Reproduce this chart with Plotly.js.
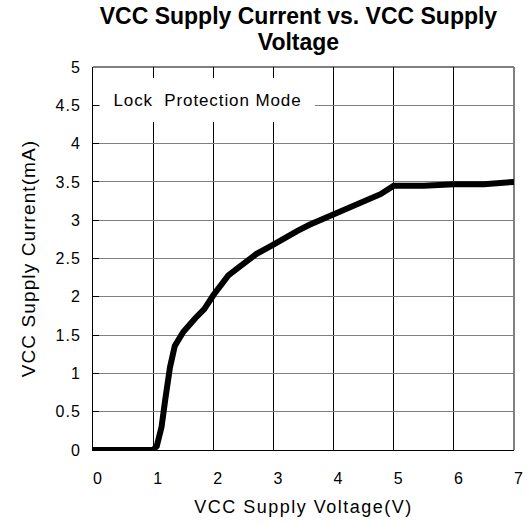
<!DOCTYPE html>
<html>
<head>
<meta charset="utf-8">
<script src="https://cdn.plot.ly/plotly-3.0.1.min.js"></script>
<style>
  html, body { margin: 0; padding: 0; background: #fff; }
  #chart { width: 532px; height: 524px; }
  .xtitle { letter-spacing: 1.5px; }
  .ytitle { letter-spacing: 1.1px; }
  .annotation-text { letter-spacing: 0.9px; }
  .xtick text, .ytick text { letter-spacing: 1px; }
</style>
</head>
<body>
<div id="chart"></div>
<script>
// Data
const voltage = [0, 1.0, 1.06, 1.14, 1.2, 1.28, 1.36, 1.5, 1.7, 1.85, 2.0, 2.25, 2.45, 2.62, 2.72, 3.0, 3.2, 3.4, 3.6, 4.0, 4.5, 4.78, 5.0, 5.5, 6.0, 6.5, 7.0];
const current = [0, 0, 0.05, 0.3, 0.65, 1.08, 1.36, 1.54, 1.72, 1.84, 2.02, 2.28, 2.4, 2.5, 2.56, 2.68, 2.78, 2.86, 2.94, 3.08, 3.24, 3.34, 3.45, 3.45, 3.47, 3.47, 3.5];

const xTickVals = [0, 1, 2, 3, 4, 5, 6, 7];
const xTickText = ["0", "1", "2", "3", "4", "5", "6", "7"];
const yTickVals = [0, 0.5, 1, 1.5, 2, 2.5, 3, 3.5, 4, 4.5, 5];
const yTickText = ["0", "0.5", "1", "1.5", "2", "2.5", "3", "3.5", "4", "4.5", "5"];

const titleLine1 = "VCC Supply Current vs. VCC Supply";
const titleLine2 = "Voltage";
const xTitle = "VCC Supply Voltage(V)";
const yTitle = "VCC Supply Current(mA)";
const noteText = "Lock  Protection Mode";

const FONT = "'Liberation Sans', Arial, sans-serif";

const trace = {
  x: voltage,
  y: current,
  type: "scatter",
  mode: "lines",
  line: { color: "#000000", width: 6, shape: "linear" },
  cliponaxis: false,
  hoverinfo: "x+y"
};

const titleSpan = t => '<span style="font-size:23px">' + t + '</span>';

const layout = {
  width: 532,
  height: 524,
  margin: { l: 93, r: 18, t: 67, b: 74, pad: 0 },
  paper_bgcolor: "#ffffff",
  plot_bgcolor: "#ffffff",
  showlegend: false,
  font: { family: FONT, color: "#000000" },
  title: {
    text: titleSpan(titleLine1) + "<br>" + titleSpan(titleLine2),
    font: { family: FONT, size: 20, color: "#000000", weight: "bold" },
    x: 0.561,
    xanchor: "center",
    xref: "container",
    y: 0.955,
    yanchor: "top",
    yref: "container"
  },
  xaxis: {
    range: [0, 7],
    tickmode: "array",
    tickvals: xTickVals,
    ticktext: xTickText,
    ticks: "inside",
    ticklen: 6,
    tickcolor: "#000000",
    tickwidth: 1,
    showgrid: true,
    gridcolor: "#000000",
    gridwidth: 1,
    zeroline: false,
    showline: true,
    linecolor: "#000000",
    linewidth: 1,
    layer: "below traces",
    tickfont: { family: FONT, size: 16, color: "#000000" },
    ticklabelstandoff: 14,
    ticklabelshift: 5,
    fixedrange: true,
    title: { text: xTitle, font: { family: FONT, size: 18, color: "#000000" }, standoff: 14 }
  },
  yaxis: {
    range: [0, 5],
    tickmode: "array",
    tickvals: yTickVals,
    ticktext: yTickText,
    ticks: "inside",
    ticklen: 6,
    tickcolor: "#000000",
    tickwidth: 1,
    showgrid: true,
    gridcolor: "#808080",
    gridwidth: 1,
    zeroline: false,
    showline: true,
    linecolor: "#000000",
    linewidth: 1,
    layer: "below traces",
    tickfont: { family: FONT, size: 16, color: "#000000" },
    ticklabelstandoff: 8,
    fixedrange: true,
    title: { text: yTitle, font: { family: FONT, size: 19, color: "#000000" }, standoff: 14 }
  },
  shapes: [
    { type: "line", xref: "paper", yref: "paper", x0: 0, x1: 1, y0: 1, y1: 1,
      line: { color: "#808080", width: 2 }, layer: "below" },
    { type: "line", xref: "paper", yref: "paper", x0: 1, x1: 1, y0: 0, y1: 1,
      line: { color: "#808080", width: 2 }, layer: "below" }
  ],
  annotations: [
    {
      text: noteText,
      xref: "x", yref: "y",
      x: 1.9, y: 4.57,
      xanchor: "center", yanchor: "middle",
      showarrow: false,
      bgcolor: "#ffffff",
      borderpad: 1,
      borderwidth: 0,
      width: 213,
      height: 42,
      font: { family: FONT, size: 17, color: "#000000" }
    }
  ]
};

Plotly.newPlot("chart", [trace], layout, { displayModeBar: false, staticPlot: true });
</script>
</body>
</html>
